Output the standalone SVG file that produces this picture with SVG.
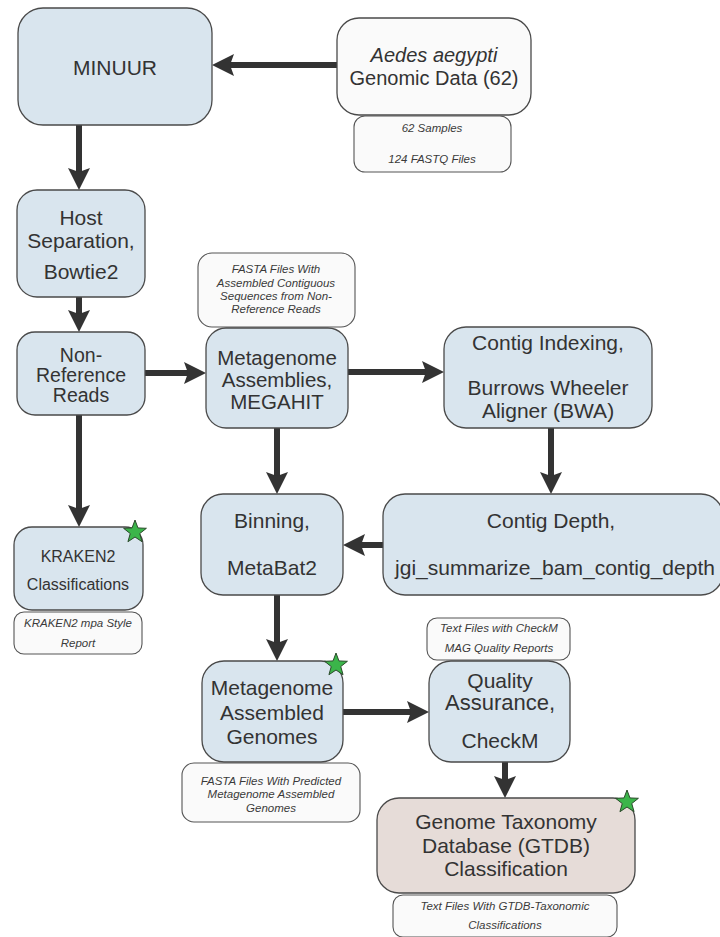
<svg xmlns="http://www.w3.org/2000/svg" width="720" height="937" viewBox="0 0 720 937">
<defs>
<style>
.box{fill:#d9e5ee;stroke:#4a4a4a;stroke-width:1.3}
.src{fill:#fafafa;stroke:#4a4a4a;stroke-width:1.3}
.gtdb{fill:#e6dcd8;stroke:#4a4a4a;stroke-width:1.3}
.note{fill:#fafafa;stroke:#555;stroke-width:1.1}
.t{font-family:"Liberation Sans",Arial,sans-serif;font-size:21px;fill:#333;text-anchor:middle}
.n{font-family:"Liberation Sans",Arial,sans-serif;font-size:11.5px;font-style:italic;fill:#3a3a3a;text-anchor:middle}
.c{stroke:#333;stroke-width:6;fill:none;marker-end:url(#ah)}
.star{fill:#3bb54a;stroke:#2a4a2a;stroke-width:1}
</style>
<marker id="ah" markerUnits="userSpaceOnUse" markerWidth="22" markerHeight="22" viewBox="0 0 22 22" refX="12" refY="11" orient="auto">
<path d="M0,0 L22,11 L0,22 L4,11 z" fill="#333"/>
</marker>
<polygon id="star" class="star" points="0,-12 2.94,-4.05 11.41,-3.71 4.76,1.55 7.05,9.71 0,5 -7.05,9.71 -4.76,1.55 -11.41,-3.71 -2.94,-4.05"/>
</defs>
<rect width="720" height="937" fill="#ffffff"/>
<g id="connectors">
<line class="c" x1="337" y1="65" x2="222" y2="65"/>
<line class="c" x1="79" y1="125" x2="79" y2="180"/>
<line class="c" x1="79" y1="297" x2="79" y2="322"/>
<line class="c" x1="145" y1="373" x2="196" y2="373"/>
<line class="c" x1="348" y1="372" x2="434" y2="372"/>
<line class="c" x1="551" y1="428" x2="551" y2="484"/>
<line class="c" x1="383" y1="545" x2="353" y2="545"/>
<line class="c" x1="277" y1="428" x2="277" y2="484"/>
<line class="c" x1="79" y1="415" x2="79" y2="517"/>
<line class="c" x1="277" y1="595" x2="277" y2="651"/>
<line class="c" x1="343" y1="712" x2="419" y2="712"/>
<line class="c" x1="505" y1="762" x2="505" y2="788"/>
</g>
<g id="minuur">
<rect class="box" x="18" y="8" width="194" height="117" rx="25"/>
<text class="t" x="115" y="75">MINUUR</text>
</g>
<g id="aedes">
<rect class="src" x="337" y="18" width="194" height="97" rx="22"/>
<text class="t" x="434" y="62" style="font-size:20px;font-style:italic">Aedes aegypti</text>
<text class="t" x="434" y="85" style="font-size:20px">Genomic Data (62)</text>
</g>
<g id="aedes-note">
<rect class="note" x="354" y="116" width="157" height="56" rx="11"/>
<text class="n" x="432" y="132">62 Samples</text>
<text class="n" x="432" y="163">124 FASTQ Files</text>
</g>
<g id="host">
<rect class="box" x="17" y="190" width="128" height="107" rx="20"/>
<text class="t" x="81" y="225">Host</text>
<text class="t" x="81" y="248">Separation,</text>
<text class="t" x="81" y="279">Bowtie2</text>
</g>
<g id="nonref">
<rect class="box" x="17" y="332" width="128" height="83" rx="18"/>
<text class="t" x="81" y="362" style="font-size:19.5px">Non-</text>
<text class="t" x="81" y="382" style="font-size:19.5px">Reference</text>
<text class="t" x="81" y="402" style="font-size:19.5px">Reads</text>
</g>
<g id="megahit-note">
<rect class="note" x="198" y="253" width="157" height="74" rx="14"/>
<text class="n" x="276" y="273">FASTA Files With</text>
<text class="n" x="276" y="287">Assembled Contiguous</text>
<text class="n" x="276" y="300">Sequences from Non-</text>
<text class="n" x="276" y="313">Reference Reads</text>
</g>
<g id="megahit">
<rect class="box" x="206" y="328" width="142" height="100" rx="20"/>
<text class="t" x="277" y="365" style="font-size:20.5px">Metagenome</text>
<text class="t" x="277" y="387" style="font-size:20.5px">Assemblies,</text>
<text class="t" x="277" y="409" style="font-size:20.5px">MEGAHIT</text>
</g>
<g id="bwa">
<rect class="box" x="444" y="327" width="208" height="101" rx="22"/>
<text class="t" x="548" y="350">Contig Indexing,</text>
<text class="t" x="548" y="395">Burrows Wheeler</text>
<text class="t" x="548" y="418">Aligner (BWA)</text>
</g>
<g id="depth">
<rect class="box" x="383" y="494" width="340" height="101" rx="22"/>
<text class="t" x="551" y="528">Contig Depth,</text>
<text class="t" x="555" y="575">jgi_summarize_bam_contig_depth</text>
</g>
<g id="binning">
<rect class="box" x="201" y="494" width="142" height="101" rx="22"/>
<text class="t" x="272" y="528">Binning,</text>
<text class="t" x="272" y="575">MetaBat2</text>
</g>
<g id="kraken">
<rect class="box" x="14" y="527" width="129" height="83" rx="18"/>
<text class="t" x="78" y="562" style="font-size:16px">KRAKEN2</text>
<text class="t" x="78" y="590" style="font-size:16px">Classifications</text>
<use href="#star" x="135" y="532"/>
</g>
<g id="kraken-note">
<rect class="note" x="14" y="612" width="128" height="42" rx="10"/>
<text class="n" x="78" y="627">KRAKEN2 mpa Style</text>
<text class="n" x="78" y="647">Report</text>
</g>
<g id="mag">
<rect class="box" x="202" y="661" width="141" height="101" rx="22"/>
<text class="t" x="272" y="695">Metagenome</text>
<text class="t" x="272" y="720">Assembled</text>
<text class="t" x="272" y="744">Genomes</text>
<use href="#star" x="336" y="665"/>
</g>
<g id="mag-note">
<rect class="note" x="182" y="763" width="178" height="59" rx="12"/>
<text class="n" x="271" y="785">FASTA Files With Predicted</text>
<text class="n" x="271" y="798">Metagenome Assembled</text>
<text class="n" x="271" y="812">Genomes</text>
</g>
<g id="checkm-note">
<rect class="note" x="427" y="618" width="143" height="42" rx="10"/>
<text class="n" x="499" y="632">Text Files with CheckM</text>
<text class="n" x="499" y="652">MAG Quality Reports</text>
</g>
<g id="checkm">
<rect class="box" x="429" y="661" width="141" height="101" rx="22"/>
<text class="t" x="500" y="688">Quality</text>
<text class="t" x="500" y="710" style="font-size:22px">Assurance,</text>
<text class="t" x="500" y="748">CheckM</text>
</g>
<g id="gtdb">
<rect class="gtdb" x="377" y="798" width="258" height="95" rx="22"/>
<text class="t" x="506" y="829">Genome Taxonomy</text>
<text class="t" x="506" y="853">Database (GTDB)</text>
<text class="t" x="506" y="876">Classification</text>
<use href="#star" x="627" y="802"/>
</g>
<g id="gtdb-note">
<rect class="note" x="393" y="895" width="224" height="42" rx="10"/>
<text class="n" x="505" y="910">Text Files With GTDB-Taxonomic</text>
<text class="n" x="505" y="929">Classifications</text>
</g>
</svg>
